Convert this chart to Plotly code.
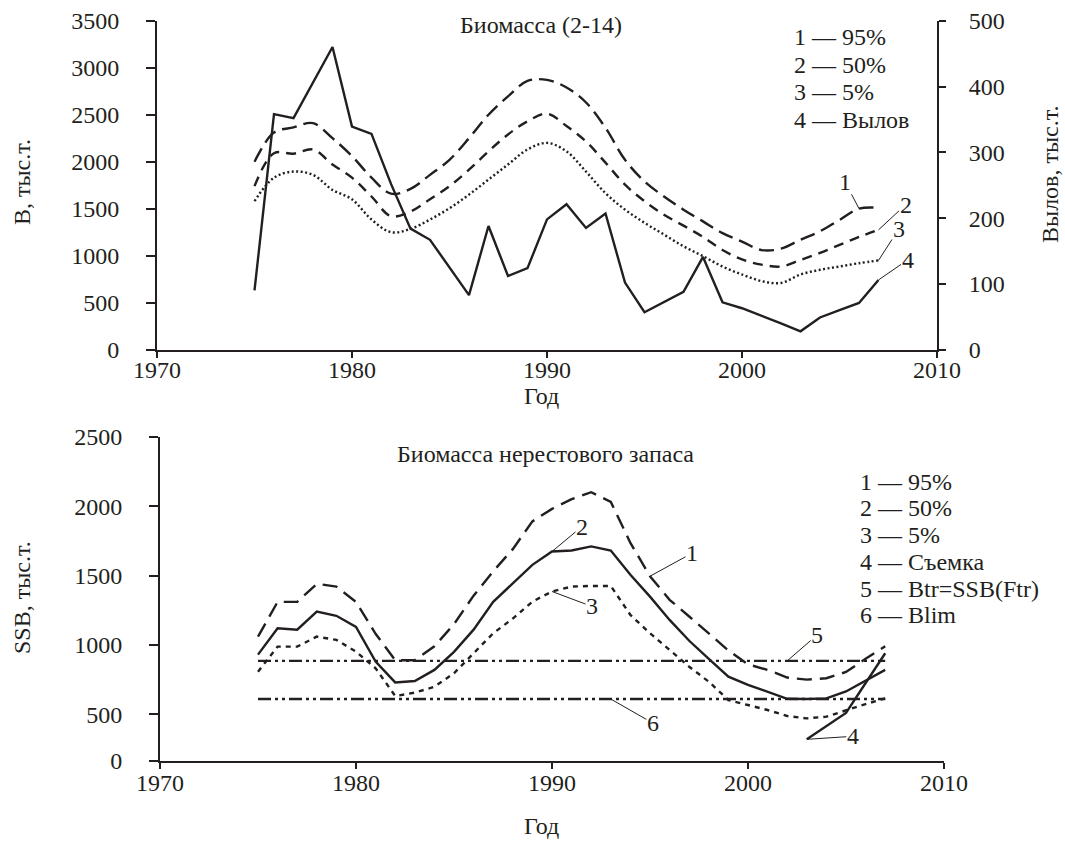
import plotly.graph_objects as go

# ---------------- data ----------------
years = list(range(1975, 2008))

# Biomass (ages 2-14), thousand t: 95%, 50%, 5% percentiles
bio_95 = [2000, 2310, 2365, 2410, 2250, 2060, 1830, 1660, 1710, 1860, 2020, 2250, 2500,
          2695, 2860, 2870, 2790, 2630, 2360, 2020, 1790, 1630, 1490, 1365, 1240, 1150,
          1060, 1075, 1170, 1260, 1380, 1500, 1510]
bio_50 = [1740, 2090, 2085, 2130, 1970, 1830, 1630, 1420, 1470, 1600, 1740, 1915, 2110,
          2290, 2430, 2510, 2380, 2215, 1990, 1755, 1580, 1435, 1320, 1200, 1060, 960,
          905, 885, 955, 1030, 1115, 1200, 1275]
bio_5 = [1580, 1830, 1895, 1860, 1700, 1600, 1385, 1250, 1285, 1385, 1505, 1650, 1810,
         1970, 2130, 2200, 2110, 1895, 1665, 1490, 1350, 1225, 1100, 995, 885, 800,
         730, 710, 800, 850, 885, 920, 950]
# Catch, thousand t (right axis)
catch = [90, 358, 352, 406, 460, 339, 328, 252, 184, 167, 124, 83, 188, 112, 124, 198,
         221, 185, 207, 102, 57, 73, 88, 141, 72, 63, 52, 40, 28, 49, 60, 71, 106]

# Spawning stock biomass, thousand t
ssb_95 = [1060, 1310, 1310, 1440, 1420, 1310, 1080, 890, 890, 990, 1150, 1355, 1530,
          1690, 1890, 1980, 2050, 2100, 2030, 1735, 1495, 1325, 1205, 1085, 960, 860,
          820, 765, 750, 760, 805, 900, 990]
ssb_50 = [930, 1120, 1110, 1240, 1210, 1130, 880, 730, 740, 820, 950, 1110, 1310,
          1445, 1577, 1673, 1680, 1710, 1680, 1505, 1348, 1180, 1030, 900, 771, 713,
          660, 612, 610, 615, 665, 745, 820]
ssb_5 = [807, 988, 988, 1060, 1036, 952, 832, 632, 656, 699, 796, 940, 1084, 1190,
         1312, 1385, 1420, 1425, 1425, 1216, 1084, 964, 843, 735, 603, 567, 531, 488,
         471, 483, 531, 574, 615]
survey_years = [2003, 2005, 2007]
survey = [320, 510, 940]
ref_years = [1975, 2007]
btr = 885
blim = 610

x_ticks = [1970, 1980, 1990, 2000, 2010]
bio_ticks = [0, 500, 1000, 1500, 2000, 2500, 3000, 3500]
catch_ticks = [0, 100, 200, 300, 400, 500]
# the SSB axis is cut at its base; the base carries the "0" label
ssb_base = 166
ssb_tickvals = [ssb_base, 500, 1000, 1500, 2000, 2500]
ssb_ticktext = ["0", "500", "1000", "1500", "2000", "2500"]

# ---------------- style ----------------
W, H = 1065, 841
INK = "#231f20"
FONT = "'Liberation Serif', 'Times New Roman', Times, serif"
FS = 24


def px(x):
    return x / W


def py(y):
    return 1 - y / H


fig = go.Figure()

# upper panel
fig.add_trace(go.Scatter(x=years, y=bio_95, mode="lines", line_shape="spline",
                         line=dict(color=INK, width=2.4, dash="15px,7px"),
                         xaxis="x", yaxis="y"))
fig.add_trace(go.Scatter(x=years, y=bio_50, mode="lines", line_shape="spline",
                         line=dict(color=INK, width=2.4, dash="10px,7px"),
                         xaxis="x", yaxis="y"))
fig.add_trace(go.Scatter(x=years, y=bio_5, mode="lines", line_shape="spline",
                         line=dict(color=INK, width=2.4, dash="2px,2.5px"),
                         xaxis="x", yaxis="y"))
fig.add_trace(go.Scatter(x=years, y=catch, mode="lines",
                         line=dict(color=INK, width=2.4),
                         xaxis="x", yaxis="y2"))

# lower panel
dashdotdot = "13px,4px,3px,4px,3px,4px"
fig.add_trace(go.Scatter(x=ref_years, y=[btr, btr], mode="lines",
                         line=dict(color=INK, width=2.4, dash=dashdotdot),
                         xaxis="x2", yaxis="y3"))
fig.add_trace(go.Scatter(x=ref_years, y=[blim, blim], mode="lines",
                         line=dict(color=INK, width=2.4, dash=dashdotdot),
                         xaxis="x2", yaxis="y3"))
fig.add_trace(go.Scatter(x=years, y=ssb_95, mode="lines",
                         line=dict(color=INK, width=2.4, dash="15px,8px"),
                         xaxis="x2", yaxis="y3"))
fig.add_trace(go.Scatter(x=years, y=ssb_50, mode="lines",
                         line=dict(color=INK, width=2.4),
                         xaxis="x2", yaxis="y3"))
fig.add_trace(go.Scatter(x=years, y=ssb_5, mode="lines",
                         line=dict(color=INK, width=2.4, dash="5px,5px"),
                         xaxis="x2", yaxis="y3"))
fig.add_trace(go.Scatter(x=survey_years, y=survey, mode="lines",
                         line=dict(color=INK, width=2.4),
                         xaxis="x2", yaxis="y3"))

axis_common = dict(showgrid=False, zeroline=False, showline=True, linecolor=INK,
                   linewidth=1.8, ticks="outside", tickcolor=INK, tickwidth=1.5,
                   automargin=False,
                   tickfont=dict(family=FONT, size=FS, color=INK))

fig.update_layout(
    width=W, height=H, showlegend=False,
    margin=dict(l=0, r=0, t=0, b=0, pad=0),
    paper_bgcolor="white", plot_bgcolor="white",
    font=dict(family=FONT, size=FS, color=INK),
    xaxis=dict(axis_common, domain=[px(157), px(937)], range=[1970, 2010],
               tickvals=x_ticks, anchor="y", ticklen=6, showticklabels=False),
    yaxis=dict(axis_common, domain=[py(349.7), py(20.7)], range=[0, 3500],
               tickvals=bio_ticks, anchor="x", ticklen=9, ticklabelstandoff=22),
    yaxis2=dict(axis_common, overlaying="y", side="right", range=[0, 500],
                tickvals=catch_ticks, anchor="x", ticklen=7, ticklabelstandoff=18),
    xaxis2=dict(axis_common, domain=[px(160), px(944)], range=[1970, 2010],
                tickvals=x_ticks, anchor="y3", ticklen=6, showticklabels=False),
    yaxis3=dict(axis_common, domain=[py(760.7), py(436.7)], range=[ssb_base, 2500],
                tickvals=ssb_tickvals, ticktext=ssb_ticktext, anchor="x2",
                ticklen=9, ticklabelstandoff=22),
)

ann = []


def text_at(x, y, s, xanchor="center", angle=0):
    ann.append(dict(x=px(x), y=py(y), xref="paper", yref="paper", text=s,
                    showarrow=False, xanchor=xanchor, yanchor="middle",
                    textangle=angle, font=dict(family=FONT, size=FS, color=INK)))


# year labels under both panels, placed on the data x axes
for t in x_ticks:
    ann.append(dict(x=t, y=py(370), xref="x", yref="paper", text=str(t),
                    showarrow=False, xanchor="center", yanchor="middle",
                    font=dict(family=FONT, size=FS, color=INK)))
    ann.append(dict(x=t, y=py(783), xref="x2", yref="paper", text=str(t),
                    showarrow=False, xanchor="center", yanchor="middle",
                    font=dict(family=FONT, size=FS, color=INK)))

# titles and axis names
text_at(541, 25, "Биомасса (2-14)")
text_at(545, 454, "Биомасса нерестового запаса")
text_at(22, 182, "В, тыс.т.", angle=-90)
text_at(1050, 175, "Вылов, тыс.т.", angle=-90)
text_at(22, 598, "SSB, тыс.т.", angle=-90)
text_at(541, 396, "Год")
text_at(541, 826, "Год")

# key lists
for i, s in enumerate(["1 — 95%", "2 — 50%", "3 — 5%", "4 — Вылов"]):
    text_at(792, 37 + i * 27.7, s, xanchor="left")
for i, s in enumerate(["1 — 95%", "2 — 50%", "3 — 5%", "4 — Съемка",
                       "5 — Btr=SSB(Ftr)", "6 — Blim"]):
    text_at(858, 481.7 + i * 26.7, s, xanchor="left")


def leader(label, x, y, xref, yref, ax, ay):
    ann.append(dict(x=x, y=y, xref=xref, yref=yref, text=label, showarrow=True,
                    arrowhead=0, arrowwidth=1, arrowcolor=INK, ax=ax, ay=ay,
                    standoff=0, borderpad=0,
                    font=dict(family=FONT, size=FS, color=INK)))


def at(yr, series, yrs=years):
    return yr, series[yrs.index(yr)]


# upper panel curve labels
leader("1", *at(2006, bio_95), "x", "y", -14, -27)
leader("2", *at(2007, bio_50), "x", "y", 27, -25)
leader("3", *at(2007, bio_5), "x", "y", 20, -31)
leader("4", *at(2007, catch), "x", "y2", 29, -20)

# lower panel curve labels
leader("1", *at(1995, ssb_95), "x2", "y3", 42, -23)
leader("2", *at(1990, ssb_50), "x2", "y3", 30, -25)
leader("3", *at(1990, ssb_5), "x2", "y3", 40, 15)
leader("5", 2002, btr, "x2", "y3", 30, -26)
leader("6", 1993, blim, "x2", "y3", 42, 24)
leader("4", *at(2003, survey, survey_years), "x2", "y3", 46, -3)

fig.update_layout(annotations=ann)

fig.write_html("out.html")
